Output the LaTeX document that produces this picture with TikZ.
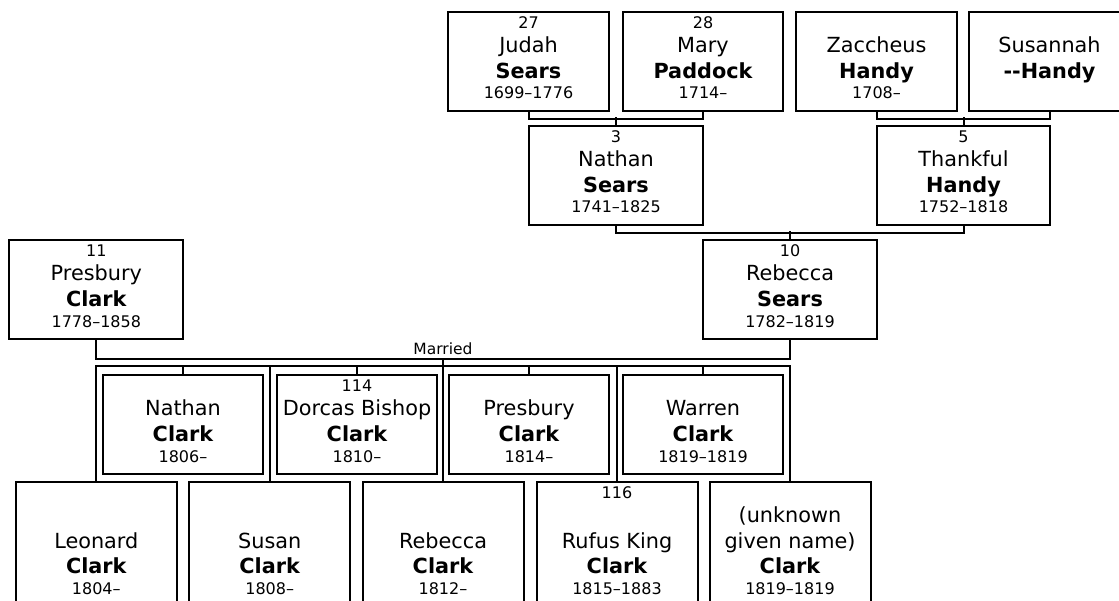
\documentclass[tikz,border=0pt]{standalone}
\usepackage{fontspec}
\setmainfont{DejaVu Sans}
\begin{document}
\begin{tikzpicture}[x=1pt,y=-1pt,
  pbox/.style={draw, line width=2pt, anchor=north, inner sep=0pt, minimum width=161pt, minimum height=99pt},
  link/.style={line width=2pt},
  smalltxt/.style={anchor=base, inner sep=0pt, font=\fontsize{16}{19}\selectfont},
  nametxt/.style={anchor=base, inner sep=0pt, font=\fontsize{20.8}{25}\selectfont},
  surtxt/.style={anchor=base, inner sep=0pt, font=\fontsize{20.8}{25}\selectfont\bfseries},
  marriedtxt/.style={anchor=base, inner sep=0pt, font=\fontsize{15.5}{18}\selectfont}]
\newcommand\pnum[2]{\node[smalltxt] (#1-num) at ([yshift=-17.3pt]#1.north) {#2};}
\newcommand\pgiven[2]{\node[nametxt] (#1-given) at ([yshift=-41.3pt]#1.north) {#2};}
\newcommand\psur[2]{\node[surtxt] (#1-sur) at ([yshift=-67.3pt]#1.north) {#2};}
\newcommand\pyears[2]{\node[smalltxt] (#1-yrs) at ([yshift=-88pt]#1.north) {#2};}
\newcommand\pgivenB[2]{\node[nametxt] (#1-givenb) at ([yshift=-67.3pt]#1.north) {#2};}
\newcommand\psurL[2]{\node[surtxt] (#1-sur) at ([yshift=-92.5pt]#1.north) {#2};}
\newcommand\pyearsL[2]{\node[smalltxt] (#1-yrs) at ([yshift=-113.3pt]#1.north) {#2};}
\useasboundingbox (0,0) rectangle (1119,601);
\clip (0,0) rectangle (1119,601);
% generation 1
\node[pbox] (judah) at (528.5,11) {};
\pnum{judah}{27}\pgiven{judah}{Judah}\psur{judah}{Sears}\pyears{judah}{1699–1776}
\node[pbox, minimum width=160pt] (mary) at (703,11) {};
\pnum{mary}{28}\pgiven{mary}{Mary}\psur{mary}{Paddock}\pyears{mary}{1714–}
\node[pbox] (zaccheus) at (876.5,11) {};
\pgiven{zaccheus}{Zaccheus}\psur{zaccheus}{Handy}\pyears{zaccheus}{1708–}
\node[pbox] (susannah) at (1049.5,11) {};
\pgiven{susannah}{Susannah}\psur{susannah}{{-}{-}Handy}
% generation 2
\node[pbox, minimum width=174pt] (nathanS) at (616,125) {};
\pnum{nathanS}{3}\pgiven{nathanS}{Nathan}\psur{nathanS}{Sears}\pyears{nathanS}{1741–1825}
\node[pbox, minimum width=173pt] (thankful) at (963.5,125) {};
\pnum{thankful}{5}\pgiven{thankful}{Thankful}\psur{thankful}{Handy}\pyears{thankful}{1752–1818}
% generation 3
\node[pbox, minimum width=174pt] (rebeccaS) at (790,239.5) {};
\pnum{rebeccaS}{10}\pgiven{rebeccaS}{Rebecca}\psur{rebeccaS}{Sears}\pyears{rebeccaS}{1782–1819}
\node[pbox, minimum width=174pt] (presbury) at (96.3,239.5) {};
\pnum{presbury}{11}\pgiven{presbury}{Presbury}\psur{presbury}{Clark}\pyears{presbury}{1778–1858}
% children, upper row
\node[pbox, minimum width=160pt, minimum height=98pt] (nathanC) at (183,374.5) {};
\pgiven{nathanC}{Nathan}\psur{nathanC}{Clark}\pyears{nathanC}{1806–}
\node[pbox, minimum width=160pt, minimum height=98pt] (dorcas) at (357,374.5) {};
\pnum{dorcas}{114}\pgiven{dorcas}{Dorcas Bishop}\psur{dorcas}{Clark}\pyears{dorcas}{1810–}
\node[pbox, minimum width=160pt, minimum height=98pt] (presburyC) at (529,374.5) {};
\pgiven{presburyC}{Presbury}\psur{presburyC}{Clark}\pyears{presburyC}{1814–}
\node[pbox, minimum width=160pt, minimum height=98pt] (warren) at (703,374.5) {};
\pgiven{warren}{Warren}\psur{warren}{Clark}\pyears{warren}{1819–1819}
% children, lower row
\node[pbox, minimum height=140pt] (leonard) at (96.3,481) {};
\pgivenB{leonard}{Leonard}\psurL{leonard}{Clark}\pyearsL{leonard}{1804–}
\node[pbox, minimum height=140pt] (susan) at (269.7,481) {};
\pgivenB{susan}{Susan}\psurL{susan}{Clark}\pyearsL{susan}{1808–}
\node[pbox, minimum height=140pt] (rebeccaC) at (443,481) {};
\pgivenB{rebeccaC}{Rebecca}\psurL{rebeccaC}{Clark}\pyearsL{rebeccaC}{1812–}
\node[pbox, minimum height=140pt] (rufus) at (617,481) {};
\pnum{rufus}{116}\pgivenB{rufus}{Rufus King}\psurL{rufus}{Clark}\pyearsL{rufus}{1815–1883}
\node[pbox, minimum height=140pt] (unknown) at (790,481) {};
\pgiven{unknown}{(unknown}\pgivenB{unknown}{given name)}\psurL{unknown}{Clark}\pyearsL{unknown}{1819–1819}
% connectors
\draw[link] (judah.south) -- ++(0,7) -| (mary.south);
\draw[link] (nathanS.north) -- ++(0,-8);
\draw[link] (zaccheus.south) -- ++(0,7) -| (susannah.south);
\draw[link] (thankful.north) -- ++(0,-8);
\draw[link] (nathanS.south) -- ++(0,7) -| (thankful.south);
\draw[link] (rebeccaS.north) -- ++(0,-8);
\coordinate (mline) at (0,359);
\coordinate (kline) at (0,366);
\draw[link] (presbury.south) -- (presbury.south |- mline) -| (rebeccaS.south);
\node[marriedtxt] (married) at (443,354.5) {Married};
\draw[link] (rebeccaC.north |- mline) -- (rebeccaC.north);
\draw[link] (leonard.north) -- (leonard.north |- kline) -- (unknown.north |- kline) -- (unknown.north);
\foreach \k in {susan,rufus} \draw[link] (\k.north |- kline) -- (\k.north);
\foreach \k in {nathanC,dorcas,presburyC,warren} \draw[link] (\k.north) -- (\k.north |- kline);
\end{tikzpicture}
\end{document}
